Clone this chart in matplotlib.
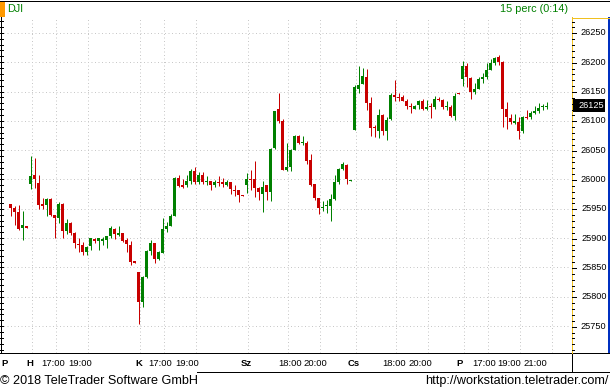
import matplotlib
matplotlib.use('Agg')
import matplotlib.pyplot as plt
from matplotlib.patches import Rectangle
from matplotlib.lines import Line2D

# ---------------- data ----------------
symbol = 'DJI'
interval_label = '15 perc (0:14)'
footer_left = '\u00a9 2018 TeleTrader Software GmbH'
footer_right = 'http://workstation.teletrader.com/'

opens = [25958, 25952, 25945, 25918, 25921,
         25993, 26008, 25994, 25958, 25957, 25967, 25940, 25935, 25958, 25912, 25926, 25909, 25890,
         25888, 25876, 25886, 25899, 25895, 25896, 25897, 25903, 25916, 25905, 25909, 25897, 25888, 25861,
         25842, 25792, 25834, 25878, 25892, 25865, 25875, 25916, 25921, 25938, 26003, 25990, 25990,
         25997, 26015, 25995, 26007, 25996, 25997, 25990, 25996, 25995, 25991, 25996, 25982, 25982, 25973,
         25991, 26001, 26001, 25985, 25976, 25990, 25979, 26053, 26120, 26100, 26017, 26022, 26050, 26074,
         26062, 26063, 26033, 25992, 25968, 25951, 25954, 25955, 25967, 25995, 26018, 26025, 25998,
         26084, 26154, 26163, 26175, 26130, 26090, 26082, 26110, 26083, 26103, 26144, 26141, 26141, 26133,
         26125, 26121, 26127, 26133, 26120, 26124, 26123, 26138, 26136, 26123, 26123, 26109, 26147,
         26172, 26193, 26173, 26149, 26154, 26172, 26175, 26187, 26199, 26208, 26201, 26120, 26105, 26097,
         26098, 26082, 26107, 26107, 26113, 26117, 26123, 26123]
highs = [25958.5, 25954, 25957, 25946, 25921,
         26040, 26037, 26008, 25969, 25969, 25969, 25940, 25961, 25960, 25933, 25927, 25911, 25900,
         25894, 25887, 25901, 25901, 25900, 25902, 25904, 25920, 25918, 25921, 25909, 25900, 25896, 25861,
         25843, 25836, 25880, 25897, 25892, 25878, 25935, 25928, 25942, 26004, 26008, 26001, 26008,
         26018, 26021, 26013, 26013, 26006, 25997, 25999, 26006, 26002, 25999, 25996, 25991, 25982, 25973,
         26011, 26016, 26032, 25988, 25997, 25991, 26053, 26117, 26148, 26103, 26062, 26052, 26076, 26076,
         26074, 26065, 26043, 25993, 25969, 25963, 25965, 25975, 26007, 26019, 26029, 26026, 25999,
         26161, 26194, 26190, 26188, 26140, 26093, 26120, 26112, 26107, 26147, 26170, 26148, 26144, 26138,
         26130, 26127, 26136, 26137, 26136, 26130, 26142, 26141, 26137, 26133, 26127, 26147, 26147,
         26202, 26199, 26174, 26164, 26174, 26182, 26198, 26205, 26209, 26212, 26202, 26132, 26112, 26111,
         26107, 26108, 26118, 26117, 26125, 26130, 26128, 26132]
lows = [25937, 25922, 25914, 25897, 25918,
        25983, 25986, 25950, 25949, 25938, 25938, 25901, 25926, 25901, 25907, 25905, 25884, 25877,
        25871, 25871, 25879, 25891, 25880, 25889, 25884, 25901, 25899, 25904, 25894, 25877, 25854, 25857,
        25754, 25783, 25832, 25871, 25858, 25862, 25875, 25910, 25921, 25938, 25988, 25986, 25988,
        25993, 25992, 25992, 25993, 25991, 25982, 25988, 25989, 25988, 25989, 25975, 25972, 25962, 25972,
        25977, 25982, 25970, 25965, 25945, 25965, 25964, 26052, 26097, 26016, 26014, 26015, 26050, 26060,
        26059, 26026, 25989, 25965, 25942, 25946, 25943, 25930, 25965, 25992, 26017, 25993, 25998,
        26084, 26147, 26162, 26118, 26074, 26073, 26071, 26076, 26067, 26101, 26134, 26133, 26133, 26120,
        26114, 26120, 26120, 26118, 26118, 26104, 26121, 26133, 26121, 26118, 26107, 26101, 26146,
        26159, 26158, 26137, 26146, 26154, 26165, 26172, 26186, 26195, 26195, 26090, 26086, 26095, 26095,
        26069, 26080, 26103, 26103, 26111, 26114, 26118, 26121]
closes = [25952, 25945, 25916, 25922, 25918,
          26006, 26001, 25957, 25955, 25967, 25940, 25934, 25958, 25912, 25926, 25909, 25891, 25889,
          25877, 25885, 25900, 25895, 25900, 25899, 25903, 25918, 25907, 25909, 25896, 25890, 25860, 25858,
          25792, 25834, 25878, 25892, 25865, 25876, 25916, 25921, 25937, 26003, 25989, 25987, 25997,
          26015, 25995, 26008, 25996, 25997, 25990, 25996, 25994, 25992, 25996, 25983, 25981, 25974, 25972.5,
          26001, 25999, 25985, 25978, 25987, 25979, 26052, 26117, 26099, 26017, 26021, 26050, 26074, 26062,
          26064, 26032, 25991, 25969, 25952, 25953, 25955, 25967, 25996, 26018, 26027, 26000, 25999,
          26158, 26161, 26176, 26131, 26088, 26087, 26110, 26082, 26101, 26144, 26141, 26139, 26134, 26126,
          26123, 26125, 26133, 26120, 26123, 26123, 26137, 26136, 26124, 26124, 26109, 26142, 26146,
          26193, 26175, 26150, 26154, 26172, 26175, 26187, 26199, 26207, 26201, 26120, 26107, 26098, 26099,
          26082, 26107, 26105, 26114, 26117, 26122, 26124, 26125.5]

price_ticks = [25750, 25800, 25850, 25900, 25950, 26000, 26050, 26100, 26150, 26200, 26250]
grid_candles = [5, 11, 19, 32, 38, 46, 59, 69, 77, 86, 96, 104, 113, 119, 127, 135]
axis_labels = ['P', 'H', '17:00', '19:00', 'K', '17:00', '19:00', 'Sz', '18:00', '20:00',
               'Cs', '18:00', '20:00', 'P', '17:00', '19:00', '21:00']

# ---------------- layout (pixels) ----------------
W, H = 610, 390
PLOT_L, PLOT_R, PLOT_T, PLOT_B = 0, 571, 17, 352.5
label_px = [4.5, 30, 53.3, 80, 139.2, 160, 186.7, 246.2, 290.5, 315.5, 353.7, 393.7,
            420.3, 459.2, 484.2, 509.2, 535]
GREEN = '#008000'
RED = '#C80000'
GRID = '#C8C8C8'
FONT = ['Liberation Sans', 'DejaVu Sans']
plt.rcParams['font.family'] = FONT

fig = plt.figure(figsize=(W / 100, H / 100), dpi=100)
fig.patch.set_facecolor('white')

# overlay in pixel coordinates (decorations)
ov = fig.add_axes([0, 0, 1, 1], zorder=0)
ov.set_xlim(0, W)
ov.set_ylim(H, 0)
ov.axis('off')

ax = fig.add_axes([PLOT_L / W, (H - PLOT_B) / H, (PLOT_R - PLOT_L) / W, (PLOT_B - PLOT_T) / H], zorder=1)
ax.patch.set_alpha(0)
# candle i centred at pixel 10.5 + 4 i
X0, STEP = 10.5, 4.0
ax.set_xlim((PLOT_L - X0) / STEP, (PLOT_R - X0) / STEP)
PX_PER_PT = 29.333 / 50.0
P_AT_Y = 26000
Y_AT_P = 179.5
ax.set_ylim(P_AT_Y - (PLOT_B - Y_AT_P) / PX_PER_PT, P_AT_Y + (Y_AT_P - PLOT_T) / PX_PER_PT)
for s in ax.spines.values():
    s.set_visible(False)
ax.set_xticks([])
ax.set_yticks([])

lw1 = 72.0 / 100  # one pixel
for p in price_ticks:
    ax.axhline(p, color=GRID, lw=lw1, ls=(0, (1, 2.5)), zorder=1)
for g in grid_candles:
    ax.axvline(g + 0.3, color=GRID, lw=lw1, ls=(0, (1, 2.5)), zorder=1)

n = len(opens)
xs = list(range(n))
cols = [GREEN if c >= o else RED for o, c in zip(opens, closes)]
ax.vlines(xs, lows, highs, colors=cols, lw=lw1, zorder=2)
bottoms = [min(o, c) for o, c in zip(opens, closes)]
heights = [max(abs(c - o), 1.8) for o, c in zip(opens, closes)]
ax.bar(xs, heights, bottom=bottoms, width=0.75, color=cols, linewidth=0, zorder=3)

# left-edge ticks of the price scale
minor = list(range(25710, 26280, 10))
for p in minor:
    ax.plot([-2.625, -2.625 + 2.5 / STEP], [p, p], color='black', lw=lw1, zorder=4, clip_on=False)

# ---------------- frame and decorations ----------------
def hline(y, x0, x1, c='black', w=1):
    ov.add_line(Line2D([x0, x1], [y, y], color=c, lw=w * lw1))

def vline(x, y0, y1, c='black', w=1):
    ov.add_line(Line2D([x, x], [y0, y1], color=c, lw=w * lw1))

hline(0.5, 0, W)
vline(0.5, 17, 352.5)
hline(352.5, 0, W)
hline(371.5, 197, W)
vline(571.5, 352.5, 371.5)
vline(609.5, 352.5, 371.5)

# right price scale panel
YELLOW = '#F0C020'
BLUE = '#0030C0'
vline(571.5, 17, 352.5, YELLOW)
hline(17.5, 571.5, 610, YELLOW)
ov.add_patch(Rectangle((607.5, 17), 2.5, 335.5, color=BLUE, lw=0))


def py(p):
    return Y_AT_P - (p - P_AT_Y) * PX_PER_PT

for p in minor:
    if p % 50 == 0:
        hline(py(p) + 0.5, 572, 576)
    else:
        hline(py(p) + 0.5, 572, 574)
for p in price_ticks:
    ov.text(606.5, py(p), f'{p}', ha='right', va='center', fontsize=6.6, color='black')

last = closes[-1]
yl = py(last)
ov.add_patch(Rectangle((572.5, yl - 6.5), 32.5, 13, color='black', lw=0))
ov.text(604.5, yl, f'{int(last)}', ha='right', va='center', fontsize=6.6, color='white')

# header
ov.add_patch(Rectangle((0, 1), 5.3, 15.7, color='#FF9900', lw=0))
ov.text(7.5, 9.5, symbol, ha='left', va='center', fontsize=7.8, color=GREEN)
ov.text(568.5, 9.5, interval_label, ha='right', va='center', fontsize=7.8, color=GREEN)

# time axis labels
for x, t in zip(label_px, axis_labels):
    bold = t.isalpha()
    ov.text(x, 363, t, ha='center', va='center', fontsize=6.8,
            fontweight='bold' if bold else 'normal', color='black')

# footer
ov.text(0, 381, footer_left, ha='left', va='center', fontsize=9.1, color='black')
ov.text(609, 381, footer_right, ha='right', va='center', fontsize=9.1, color='black')

fig.savefig('out.png', dpi=100, facecolor='white')
